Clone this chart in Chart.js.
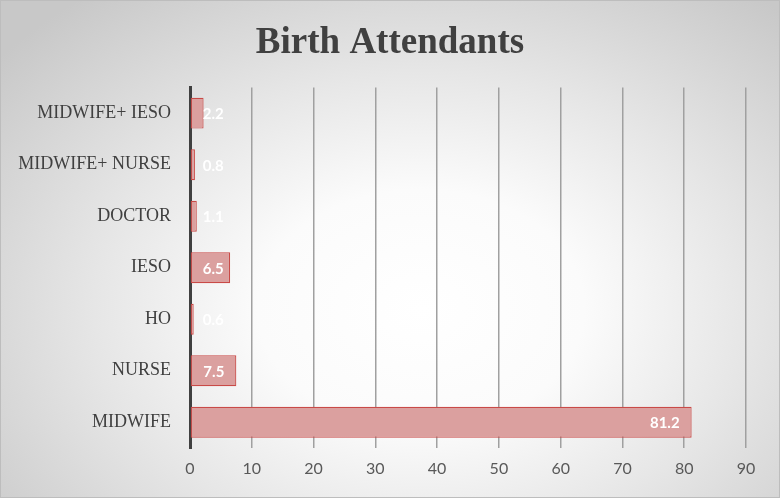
<!DOCTYPE html>
<html>
<head>
<meta charset="utf-8">
<script src="https://cdn.jsdelivr.net/npm/chart.js@4"></script>
<style>
  html, body { margin: 0; padding: 0; }
  #wrap {
    position: relative;
    width: 778px;
    height: 496px;
    border: 1px solid #bdbdbd;
    background: radial-gradient(ellipse 70% 80% at 54% 62%, #ffffff 0%, #fbfbfb 30%, #e6e6e6 60%, #c8c8c8 100%);
  }
</style>
</head>
<body>
<div id="wrap"><canvas id="birth-chart" width="778" height="496"></canvas></div>
<script>
// Chart data
const categories = ['MIDWIFE+ IESO', 'MIDWIFE+ NURSE', 'DOCTOR', 'IESO', 'HO', 'NURSE', 'MIDWIFE'];
const percentages = [2.2, 0.8, 1.1, 6.5, 0.6, 7.5, 81.2];
const xTicks = [0, 10, 20, 30, 40, 50, 60, 70, 80, 90];

const ctx = document.getElementById('birth-chart').getContext('2d');

// Draws the white value labels at the end of each bar
const valueLabels = {
    id: 'valueLabels',
    afterDatasetsDraw(chart) {
        const c = chart.ctx;
        const meta = chart.getDatasetMeta(0);
        c.save();
        c.font = 'bold 15px Lato, "Open Sans", sans-serif';
        c.fillStyle = '#ffffff';
        c.textBaseline = 'middle';
        c.textAlign = 'right';
        meta.data.forEach((bar, i) => {
            const text = percentages[i].toFixed(1);
            const w = c.measureText(text).width;
            const right = Math.max(bar.x - 12, bar.base + 12 + w);
            c.fillText(text, right, bar.y + 1);
        });
        c.restore();
    }
};

new Chart(ctx, {
    type: 'bar',
    data: {
        labels: categories,
        datasets: [{
            label: 'Birth Attendants',
            data: percentages,
            backgroundColor: '#dba09f',
            borderColor: '#c94a47',
            borderWidth: 1.2,
            borderSkipped: false,
            barPercentage: 0.6,
            categoryPercentage: 1.0
        }]
    },
    options: {
        indexAxis: 'y',
        responsive: false,
        animation: false,
        layout: { padding: { top: 20, right: 0, bottom: 0, left: 0 } },
        plugins: {
            legend: { display: false },
            tooltip: { enabled: false },
            title: {
                display: true,
                text: 'Birth Attendants',
                color: '#404040',
                font: { family: '"Liberation Serif", "Times New Roman", serif', size: 37, weight: 'bold' },
                padding: { top: 0, bottom: 22 }
            }
        },
        scales: {
            x: {
                min: 0,
                max: 90,
                afterBuildTicks: (scale) => { scale.ticks = xTicks.map(v => ({ value: v })); },
                grid: { color: '#a0a0a0', lineWidth: 1.5, tickLength: 0, drawTicks: false },
                border: { display: false },
                ticks: { color: '#595959', font: { family: 'Lato, "Open Sans", sans-serif', size: 16 }, padding: 11 },
                afterFit: (scale) => { scale.height = 49; }
            },
            y: {
                grid: { display: false },
                border: { color: '#404040', width: 3 },
                ticks: { color: '#404040', font: { family: '"Liberation Serif", "Times New Roman", serif', size: 18 }, padding: 11 },
                afterFit: (scale) => { scale.width = 189; }
            },
            // empty right-hand spacer so the plot ends at 90 like the original
            yRight: {
                type: 'category',
                axis: 'y',
                labels: categories,
                position: 'right',
                grid: { display: false },
                border: { display: false },
                ticks: { display: false },
                afterFit: (scale) => { scale.width = 33; }
            }
        }
    },
    plugins: [valueLabels]
});
</script>
</body>
</html>
